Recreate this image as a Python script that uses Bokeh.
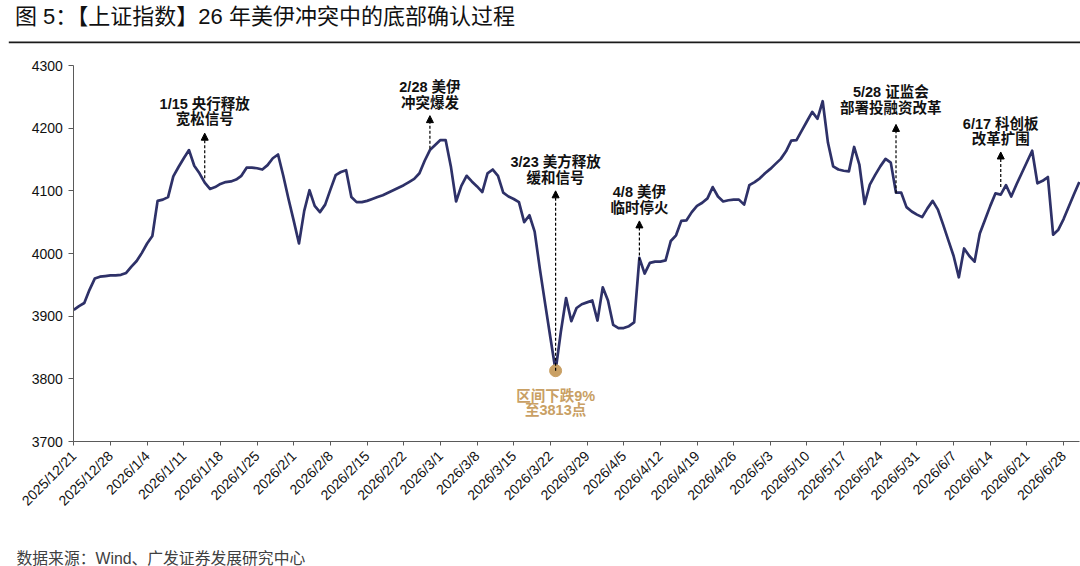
import numpy as np
import pandas as pd
from bokeh.plotting import figure
from bokeh.models import Range1d, FixedTicker, Arrow, NormalHead
from bokeh.embed import file_html
from bokeh.resources import INLINE
from bokeh.core.properties import value

# ---------------- data ----------------
title_text = "图 5：【上证指数】26 年美伊冲突中的底部确认过程"
source_text = "数据来源：Wind、广发证券发展研究中心"

start_date = "2025-12-21"
# daily index level, starting 2025-12-21
close = [
    3910, 3916, 3921, 3942, 3960, 3963, 3964, 3965, 3965, 3966,
    3969, 3979, 3988, 4001, 4016, 4028, 4084, 4086, 4090, 4123,
    4138, 4152, 4165, 4140, 4128, 4113, 4103, 4106, 4111, 4114,
    4115, 4118, 4124, 4137, 4137, 4136, 4134, 4141, 4152, 4158,
    4124, 4087, 4052, 4016, 4068, 4101, 4076, 4066, 4078, 4102,
    4125, 4130, 4133, 4090, 4082, 4082, 4084, 4087, 4090, 4093,
    4097, 4101, 4105, 4109, 4114, 4119, 4128, 4148, 4165, 4173,
    4181, 4181, 4139, 4083, 4108, 4124, 4115, 4107, 4098, 4128,
    4134, 4124, 4097, 4091, 4087, 4082, 4050, 4061, 4035, 3975,
    3920, 3866, 3813, 3875, 3929, 3892, 3913, 3919, 3922, 3925,
    3893, 3946, 3925, 3886, 3881, 3881, 3884, 3890, 3993, 3968,
    3985, 3987, 3987, 3989, 4020, 4029, 4052, 4053, 4066, 4076,
    4081, 4088, 4106, 4091, 4083, 4085, 4086, 4086, 4078, 4109,
    4114, 4120, 4128, 4135, 4143, 4151, 4163, 4180, 4181, 4196,
    4211, 4226, 4215, 4243, 4177, 4139, 4134, 4132, 4131, 4170,
    4142, 4079, 4110, 4125, 4139, 4151, 4145, 4097, 4097, 4074,
    4067, 4062, 4058, 4072, 4084, 4070, 4046, 4021, 3996, 3962,
    4008, 3996, 3987, 4032, 4054, 4076, 4096, 4094, 4109, 4091,
    4110, 4128, 4146, 4164, 4112, 4116, 4122, 4030, 4038, 4055,
    4075, 4095, 4114,
]

y_ticks = [3700, 3800, 3900, 4000, 4100, 4200, 4300]
tick_labels = [
    "2025/12/21", "2025/12/28", "2026/1/4", "2026/1/11", "2026/1/18",
    "2026/1/25", "2026/2/1", "2026/2/8", "2026/2/15", "2026/2/22",
    "2026/3/1", "2026/3/8", "2026/3/15", "2026/3/22", "2026/3/29",
    "2026/4/5", "2026/4/12", "2026/4/19", "2026/4/26", "2026/5/3",
    "2026/5/10", "2026/5/17", "2026/5/24", "2026/5/31", "2026/6/7",
    "2026/6/14", "2026/6/21", "2026/6/28",
]

# event annotations
ann_dates = ["2026-01-15", "2026-02-27", "2026-03-23", "2026-04-08", "2026-05-27", "2026-06-16"]
ann_text_dates = ["2026-01-15", "2026-02-27", "2026-03-23", "2026-04-08", "2026-05-26", "2026-06-16"]
ann_line1 = ["1/15 央行释放", "2/28 美伊", "3/23 美方释放", "4/8 美伊", "5/28 证监会", "6/17 科创板"]
ann_line2 = ["宽松信号", "冲突爆发", "缓和信号", "临时停火", "部署投融资改革", "改革扩围"]
ann_text_y1 = [4239, 4265, 4146, 4098, 4257, 4207]
ann_text_y2 = [4214, 4240, 4121, 4073, 4232, 4182]
ann_arrow_y0 = [4120, 4167, 3813, 3989, 4096, 4106]
ann_arrow_y1 = [4192, 4220, 4100, 4052, 4206, 4162]

low_date = "2026-03-23"
low_value = 3813
low_lines = ["区间下跌9%", "至3813点"]
low_text_y = [3773, 3751]

# ---------------- layout (pixels of the 1080x566 canvas) ----------------
W, H = 1080, 566
PLOT_LEFT, PLOT_TOP, PLOT_BOTTOM = 73.3, 65.0, 441.0
PX_PER_DAY = 5.237

FONT = "'Liberation Sans', 'Noto Sans CJK SC'"
LINE_COLOR = "#2E3168"
TAN = "#C9A064"
AX = "#5a5a5a"
base = pd.Timestamp(start_date)


def to_day(s):
    return (pd.Timestamp(s) - base).days


dates = pd.date_range(start_date, periods=len(close), freq="D")
days = [(d - base).days for d in dates]
tick_days = [(pd.to_datetime(t, format="%Y/%m/%d") - base).days for t in tick_labels]

y_lo, y_hi = y_ticks[0], y_ticks[-1]
px_per_unit = (PLOT_BOTTOM - PLOT_TOP) / (y_hi - y_lo)
x_range = Range1d(-PLOT_LEFT / PX_PER_DAY, (W - PLOT_LEFT) / PX_PER_DAY)
y_range = Range1d(y_lo - (H - PLOT_BOTTOM) / px_per_unit, y_hi + PLOT_TOP / px_per_unit)


def px_x(px):
    return (px - PLOT_LEFT) / PX_PER_DAY


def px_y(py):
    return y_hi - (py - PLOT_TOP) / px_per_unit


p = figure(width=W, height=H, x_range=x_range, y_range=y_range,
           output_backend="svg", toolbar_location=None, min_border=0,
           background_fill_color="white", border_fill_color="white")
p.outline_line_color = None
p.xgrid.visible = False
p.ygrid.visible = False

# title, rule under the title, source note
p.text(x=[px_x(14.5)], y=[px_y(15.8)], text=[title_text], text_font=value(FONT),
       text_font_size="22px", text_align="left", text_baseline="middle", text_color="#111111")
p.segment(x0=[px_x(8.3)], y0=[px_y(41.8)], x1=[px_x(W)], y1=[px_y(41.8)],
          line_color="#1a1a1a", line_width=1.7)
p.text(x=[px_x(16)], y=[px_y(557.5)], text=[source_text], text_font=value(FONT),
       text_font_size="15.8px", text_align="left", text_baseline="middle", text_color="#404040")

p.line(x=days, y=close, line_color=LINE_COLOR, line_width=2.7, line_join="round")

# arrows
for d, y0, y1 in zip(ann_dates, ann_arrow_y0, ann_arrow_y1):
    p.add_layout(Arrow(end=NormalHead(size=7, fill_color="black", line_color="black", line_width=1),
                       x_start=to_day(d), y_start=y0, x_end=to_day(d), y_end=y1,
                       line_color="black", line_width=1.2, line_dash="3 2"))

# low point
p.scatter(x=[to_day(low_date)], y=[low_value], size=12, fill_color=TAN, line_color=TAN)
p.text(x=[to_day(low_date)] * 2, y=low_text_y, text=low_lines, text_font=value(FONT),
       text_font_size="14.5px", text_font_style="bold", text_color=TAN,
       text_align="center", text_baseline="middle")

# event labels
tx = [to_day(d) for d in ann_text_dates]
p.text(x=tx, y=ann_text_y1, text=ann_line1, text_font=value(FONT), text_font_size="14.5px",
       text_font_style="bold", text_color="#111111", text_align="center", text_baseline="middle")
p.text(x=tx, y=ann_text_y2, text=ann_line2, text_font=value(FONT), text_font_size="14.5px",
       text_font_style="bold", text_color="#111111", text_align="center", text_baseline="middle")

# axes, pinned at the plot area edges
p.yaxis.fixed_location = 0
p.yaxis.bounds = (y_lo, y_hi)
p.yaxis.ticker = FixedTicker(ticks=y_ticks, minor_ticks=[])
p.yaxis.major_tick_out = 5
p.yaxis.major_tick_in = 0
p.yaxis.minor_tick_out = 0
p.yaxis.axis_line_color = AX
p.yaxis.major_tick_line_color = AX
p.yaxis.major_label_text_font = FONT
p.yaxis.major_label_text_font_size = "14px"
p.yaxis.major_label_text_color = "#111111"
p.yaxis.major_label_standoff = 6

p.xaxis.fixed_location = y_lo
p.xaxis.bounds = (0, px_x(W - 1))
p.xaxis.ticker = FixedTicker(ticks=tick_days, minor_ticks=[])
p.xaxis.major_label_overrides = {int(d): lab for d, lab in zip(tick_days, tick_labels)}
p.xaxis.major_label_orientation = np.pi / 4
p.xaxis.major_tick_out = 4
p.xaxis.major_tick_in = 0
p.xaxis.minor_tick_out = 0
p.xaxis.axis_line_color = AX
p.xaxis.major_tick_line_color = AX
p.xaxis.major_label_text_font = FONT
p.xaxis.major_label_text_font_size = "14px"
p.xaxis.major_label_text_color = "#111111"
p.xaxis.major_label_standoff = 8

open("out.html", "w").write(file_html(p, INLINE))
